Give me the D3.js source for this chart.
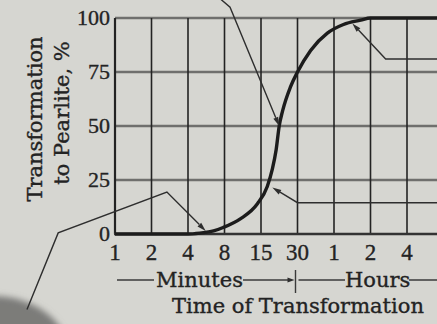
<!DOCTYPE html>
<html>
<head>
<meta charset="utf-8">
<script src="https://cdn.jsdelivr.net/npm/d3@7"></script>
<style>
  html, body { margin: 0; padding: 0; background: #d6d6d1; }
  svg { display: block; }
  text { stroke: #232323; stroke-width: 0.35px; }
</style>
</head>
<body>
<svg id="chart" width="437" height="324"></svg>
<script>
// tick positions (minutes) and the labels printed under them
const tickMinutes = [1, 2, 4, 8, 15, 30, 60, 120, 240, 480];
const tickLabels = ["1", "2", "4", "8", "15", "30", "1", "2", "4", "8"];
const yTicks = [0, 25, 50, 75, 100];

// transformation curve
const curveMinutes = [1, 2, 4, 5, 6.5, 7.8, 10.5, 14.1, 16.9, 18.6, 20, 21.2, 22.6, 26.2, 30, 38.5, 52.9, 71.8, 99.5, 120, 240, 480, 700];
const curvePercent = [0, 0, 0, 0.4, 1.4, 3, 7, 14, 22, 30, 39, 50, 57, 68, 75, 85, 93, 97, 99, 100, 100, 100, 100];

const W = 437, H = 324;
const plotLeft = 115, plotTop = 18, plotBottom = 234, step = 36.5;

const svg = d3.select("#chart");
const ink = "#232323";

// grid columns are evenly spaced, so use a piecewise log scale
const x = d3.scaleLog()
  .domain(tickMinutes)
  .range(tickMinutes.map((d, i) => plotLeft + i * step));
const y = d3.scaleLinear().domain([0, 100]).range([plotBottom, plotTop]);

// photo shadow bottom-left
const defs = svg.append("defs");
defs.append("filter").attr("id", "soft")
  .attr("x", "-50%").attr("y", "-50%").attr("width", "200%").attr("height", "200%")
  .append("feGaussianBlur").attr("stdDeviation", 3);
svg.append("ellipse")
  .attr("cx", -8).attr("cy", 352).attr("rx", 76).attr("ry", 56)
  .attr("fill", "#7c7c79").attr("filter", "url(#soft)");

const xEnd = W + 20;

// horizontal grid
svg.append("g").selectAll("line")
  .data(yTicks.filter(d => d > 0))
  .join("line")
  .attr("x1", plotLeft).attr("x2", xEnd)
  .attr("y1", d => y(d)).attr("y2", d => y(d))
  .attr("stroke", "#6f6f6d").attr("stroke-width", 2.4);

// vertical grid
svg.append("g").selectAll("line")
  .data(tickMinutes)
  .join("line")
  .attr("x1", d => x(d)).attr("x2", d => x(d))
  .attr("y1", y(100)).attr("y2", y(0))
  .attr("stroke", ink).attr("stroke-width", d => d === 1 ? 2.2 : 1.6);

// zero line
svg.append("line")
  .attr("x1", plotLeft - 1).attr("x2", xEnd)
  .attr("y1", y(0)).attr("y2", y(0))
  .attr("stroke", "#333").attr("stroke-width", 2.4);

// y tick labels
svg.append("g").selectAll("text")
  .data(yTicks)
  .join("text")
  .attr("x", plotLeft - 5)
  .attr("y", d => y(d))
  .attr("dy", "0.34em")
  .attr("text-anchor", "end")
  .attr("fill", ink)
  .attr("style", "font-family: 'Liberation Serif', serif; font-size: 22px;")
  .text(d => d);

// x tick labels (the last one runs off the right edge, as in the print)
svg.append("g").selectAll("text")
  .data(tickMinutes)
  .join("text")
  .attr("x", d => x(d))
  .attr("y", 260)
  .attr("text-anchor", "middle")
  .attr("fill", ink)
  .attr("style", "font-family: 'Liberation Serif', serif; font-size: 23px;")
  .text((d, i) => tickLabels[i]);

// the curve
const pts = curveMinutes.map((m, i) => [m, curvePercent[i]]);
const line = d3.line()
  .x(d => x(d[0]))
  .y(d => y(d[1]))
  .curve(d3.curveMonotoneX);
svg.append("path")
  .datum(pts)
  .attr("d", line)
  .attr("fill", "none")
  .attr("stroke", "#1c1c1c")
  .attr("stroke-width", 3.4)
  .attr("stroke-linejoin", "round");

// leader lines with arrowheads, in data units (minutes, percent)
const leaders = [
  [[7.0, 110], [8.8, 105], [21.2, 50]],
  [[900, 81], [160, 81], [85, 97.5]],
  [[900, 14.5], [30, 14.5], [18.6, 21.5]],
  [[0.188, -35], [0.34, 0.5], [2.68, 19.4], [5.6, 1.4]]
];
const lg = svg.append("g");
leaders.forEach(pl => {
  const p = pl.map(d => [x(d[0]), y(d[1])]);
  const a = p[p.length - 2], b = p[p.length - 1];
  const ang = Math.atan2(b[1] - a[1], b[0] - a[0]);
  const len = 9, wid = 2.6;
  const bx = b[0] - len * Math.cos(ang), by = b[1] - len * Math.sin(ang);
  // stop the line at the arrow base
  const shaft = p.slice(0, -1).concat([[bx, by]]);
  lg.append("path")
    .attr("d", d3.line()(shaft))
    .attr("fill", "none")
    .attr("stroke", "#2e2e2e")
    .attr("stroke-width", 1.4);
  lg.append("path")
    .attr("d", `M${b[0]},${b[1]}L${bx - wid * Math.sin(ang)},${by + wid * Math.cos(ang)}L${bx + wid * Math.sin(ang)},${by - wid * Math.cos(ang)}Z`)
    .attr("fill", "#2e2e2e");
});

// Minutes / Hours bracket line
const wordStyle = "font-family: 'DejaVu Serif', serif; font-size: 21px;";
const by2 = 280;
const sep = x(30) - 2;
const bg = svg.append("g").attr("stroke", "#3a3a3a").attr("stroke-width", 1.4);
bg.append("line").attr("x1", 117).attr("x2", 154).attr("y1", by2).attr("y2", by2);
bg.append("line").attr("x1", 243).attr("x2", sep - 5).attr("y1", by2).attr("y2", by2);
bg.append("line").attr("x1", sep).attr("x2", sep).attr("y1", 270).attr("y2", 293);
bg.append("line").attr("x1", sep + 3).attr("x2", 345).attr("y1", by2).attr("y2", by2);
bg.append("line").attr("x1", 409).attr("x2", xEnd).attr("y1", by2).attr("y2", by2);
svg.append("path")
  .attr("d", `M${sep - 1},${by2}L${sep - 8},${by2 - 2.5}L${sep - 8},${by2 + 2.5}Z`)
  .attr("fill", "#2e2e2e");

svg.append("text").attr("x", 156).attr("y", 287).attr("fill", ink)
  .attr("style", wordStyle).text("Minutes");
svg.append("text").attr("x", 345).attr("y", 287).attr("fill", ink)
  .attr("style", wordStyle).text("Hours");
svg.append("text").attr("x", 172).attr("y", 313).attr("fill", ink)
  .attr("style", wordStyle).text("Time of Transformation");

// y axis title, two lines
svg.append("text")
  .attr("transform", "translate(42,119) rotate(-90)")
  .attr("text-anchor", "middle")
  .attr("fill", ink)
  .attr("style", wordStyle)
  .text("Transformation");
svg.append("text")
  .attr("transform", "translate(69,113) rotate(-90)")
  .attr("text-anchor", "middle")
  .attr("fill", ink)
  .attr("style", wordStyle)
  .text("to Pearlite, %");
</script>
</body>
</html>
